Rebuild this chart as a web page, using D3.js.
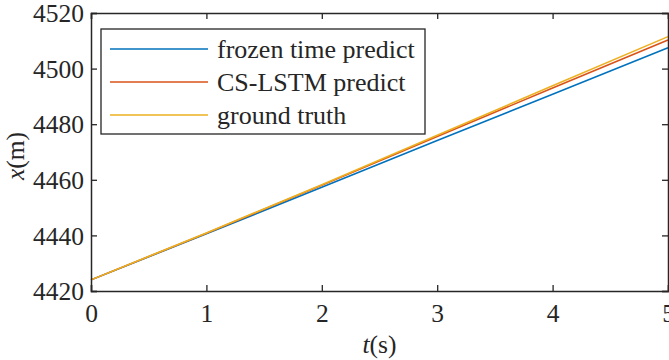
<!DOCTYPE html>
<html>
<head>
<meta charset="utf-8">
<script src="https://cdn.jsdelivr.net/npm/d3@7"></script>
<style>
  html, body { margin: 0; padding: 0; background: #fff; }
  svg { display: block; }
  text { font-family: "Liberation Serif", "Times New Roman", serif; fill: #262626; }
</style>
</head>
<body>
<svg id="chart" width="669" height="360"></svg>
<script>
// Data
const timeS = [0, 1, 2, 3, 4, 5];
const frozenPredict = [4424, 4440.6, 4457.3, 4474.1, 4490.8, 4507.5];
const csLstmPredict = [4424, 4440.8, 4458.0, 4475.6, 4493.0, 4510.3];
const groundTruth = [4424, 4440.9, 4458.2, 4476.0, 4493.8, 4511.5];
const seriesNames = ["frozen time predict", "CS-LSTM predict", "ground truth"];
const seriesColors = ["#0072BD", "#D95319", "#EDB120"];
const xTicks = [0, 1, 2, 3, 4, 5];
const yTicks = [4420, 4440, 4460, 4480, 4500, 4520];

const seriesValues = [frozenPredict, csLstmPredict, groundTruth];

const svg = d3.select("#chart");
const m = { left: 91, right: 668, top: 13, bottom: 291 };
const x = d3.scaleLinear().domain([0, 5]).range([m.left, m.right]);
const y = d3.scaleLinear().domain([4420, 4520]).range([m.bottom, m.top]);
const axisColor = "#262626";
const fs = 25.5;
const legendFs = 26;

// Lines
const line = d3.line().x(d => x(d[0])).y(d => y(d[1]));
seriesValues.forEach((vals, i) => {
  svg.append("path")
    .datum(timeS.map((t, j) => [t, vals[j]]))
    .attr("fill", "none")
    .attr("stroke", seriesColors[i])
    .attr("stroke-width", 1.6)
    .attr("d", line);
});

// Axes (box with inward ticks)
const tickLen = 6;
const bottomAxis = d3.axisBottom(x).tickValues(xTicks).tickSize(-tickLen).tickFormat(d3.format("d"));
const topAxis = d3.axisTop(x).tickValues(xTicks).tickSize(-tickLen).tickFormat("");
const leftAxis = d3.axisLeft(y).tickValues(yTicks).tickSize(-tickLen).tickFormat(d3.format("d"));
const rightAxis = d3.axisRight(y).tickValues(yTicks).tickSize(-tickLen).tickFormat("");

function styleAxis(g) {
  g.select(".domain").attr("stroke", axisColor).attr("stroke-width", 1.5);
  g.selectAll(".tick line").attr("stroke", axisColor).attr("stroke-width", 1.3);
  g.selectAll(".tick text").attr("font-size", fs).attr("fill", axisColor)
    .style("font-family", '"Liberation Serif", "Times New Roman", serif');
}

svg.append("g").attr("transform", `translate(0,${m.bottom})`).call(bottomAxis).call(styleAxis)
  .selectAll(".tick text").attr("dy", null).attr("y", 31);
svg.append("g").attr("transform", `translate(0,${m.top})`).call(topAxis).call(styleAxis);
svg.append("g").attr("transform", `translate(${m.left},0)`).call(leftAxis).call(styleAxis)
  .selectAll(".tick text").attr("x", -7).attr("dy", "0.34em");
svg.append("g").attr("transform", `translate(${m.right},0)`).call(rightAxis).call(styleAxis);

// Axis labels
const xl = svg.append("text").attr("x", (m.left + m.right) / 2).attr("y", 353)
  .attr("text-anchor", "middle").attr("font-size", fs);
xl.append("tspan").attr("font-style", "italic").text("t");
xl.append("tspan").text("(s)");

const yl = svg.append("text").attr("transform", `translate(24,${(m.top + m.bottom) / 2 + 4}) rotate(-90)`)
  .attr("text-anchor", "middle").attr("font-size", fs);
yl.append("tspan").attr("font-style", "italic").text("x");
yl.append("tspan").text("(m)");

// Legend
const lg = svg.append("g");
lg.append("rect").attr("x", 101).attr("y", 29).attr("width", 324).attr("height", 105)
  .attr("fill", "#fff").attr("stroke", axisColor).attr("stroke-width", 1.3);
const rowY = [49, 82, 115];
seriesNames.forEach((name, i) => {
  lg.append("line").attr("x1", 110).attr("x2", 208).attr("y1", rowY[i]).attr("y2", rowY[i])
    .attr("stroke", seriesColors[i]).attr("stroke-width", 1.6);
  lg.append("text").attr("x", 217).attr("y", rowY[i]).attr("dy", "0.33em")
    .attr("font-size", legendFs).attr("fill", "#000").text(name);
});
</script>
</body>
</html>
